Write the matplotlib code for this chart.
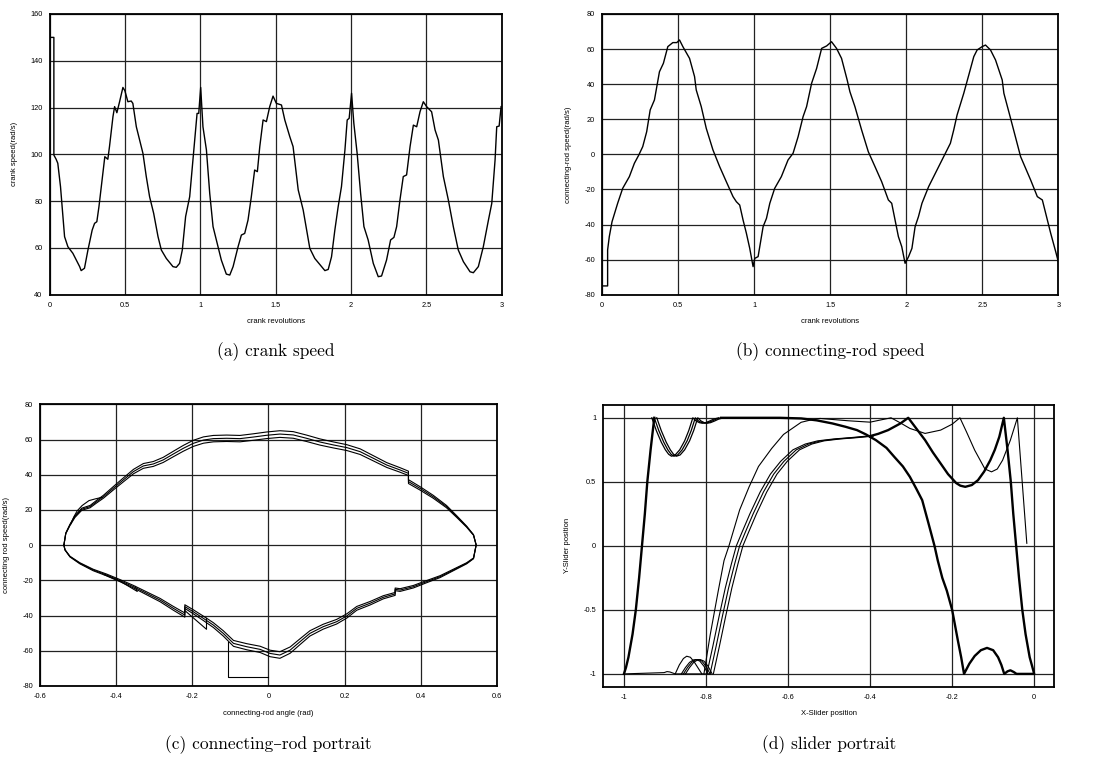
import matplotlib
matplotlib.use("Agg")
import matplotlib.pyplot as plt

plt.rcParams["font.family"] = ["Liberation Sans", "DejaVu Sans"]
plt.rcParams["axes.unicode_minus"] = False

# ----------------------------
# (a) crank speed
# ----------------------------
crank_rev = [0.0, 0.029, 0.029, 0.044, 0.055, 0.073, 0.089, 0.10, 0.122, 0.155, 0.20, 0.21,
             0.232, 0.255, 0.283, 0.299, 0.314, 0.328, 0.354, 0.367, 0.387, 0.398, 0.421,
             0.432, 0.447, 0.465, 0.487, 0.50, 0.52, 0.542, 0.553, 0.576, 0.598, 0.62,
             0.642, 0.664, 0.691, 0.72, 0.742, 0.775, 0.819, 0.841, 0.863, 0.881, 0.903,
             0.93, 0.963, 0.979, 0.99, 1.003, 1.018, 1.041, 1.063, 1.085, 1.107, 1.14,
             1.173, 1.196, 1.218, 1.251, 1.273, 1.295, 1.317, 1.339, 1.361, 1.379, 1.395,
             1.417, 1.439, 1.461, 1.483, 1.505, 1.539, 1.561, 1.594, 1.616, 1.65, 1.683,
             1.727, 1.76, 1.805, 1.827, 1.849, 1.871, 1.893, 1.915, 1.937, 1.96, 1.975,
             1.988, 2.004, 2.019, 2.041, 2.064, 2.086, 2.114, 2.148, 2.181, 2.203, 2.236,
             2.263, 2.285, 2.303, 2.325, 2.347, 2.369, 2.392, 2.414, 2.436, 2.458, 2.48,
             2.502, 2.535, 2.558, 2.58, 2.613, 2.646, 2.679, 2.712, 2.746, 2.79, 2.812,
             2.845, 2.878, 2.912, 2.934, 2.956, 2.967, 2.983, 2.996]
crank_speed = [150, 150, 99.7, 97.9, 96.2, 86.2, 73.4, 64.8, 60.5, 57.7, 52.0, 50.3,
               51.3, 59.1, 67.6, 70.5, 71.2, 77.6, 91.9, 99.0, 97.9, 103.3, 116.1,
               120.4, 117.8, 122.5, 128.6, 127.2, 122.5, 122.8, 121.8, 111.8, 106.1, 100.4,
               90.5, 81.9, 74.8, 64.8, 59.1, 55.5, 52.0, 51.7, 53.4, 59.1, 73.4,
               81.9, 106.1, 117.5, 117.5, 128.6, 111.8, 101.9, 83.3, 69.1, 63.4, 54.8,
               48.8, 48.4, 52.0, 60.5, 65.5, 66.2, 71.9, 81.9, 93.3, 92.6, 103.3,
               114.7, 114.0, 120.4, 124.9, 121.8, 121.1, 114.7, 107.6, 103.3, 84.8, 76.2,
               59.8, 55.5, 52.0, 50.3, 50.8, 56.2, 67.6, 77.6, 86.2, 101.9, 114.7,
               115.4, 126.1, 113.3, 100.4, 83.3, 69.1, 63.4, 53.4, 47.7, 48.0, 54.8,
               63.4, 64.5, 69.1, 80.5, 90.5, 91.2, 103.3, 112.5, 111.8, 118.2, 122.5,
               120.4, 118.2, 110.4, 106.1, 90.5, 80.5, 69.1, 59.1, 54.1, 49.8, 49.4,
               52.0, 60.5, 71.9, 79.0, 97.6, 111.8, 112.1, 120.4]

# ----------------------------
# (b) connecting-rod speed
# ----------------------------
rod_rev = [0.0, 0.035, 0.035, 0.046, 0.064, 0.101, 0.134, 0.178, 0.211, 0.24, 0.266, 0.292,
           0.315, 0.343, 0.376, 0.402, 0.431, 0.464, 0.49, 0.508, 0.53, 0.574, 0.607,
           0.618, 0.651, 0.684, 0.728, 0.772, 0.816, 0.86, 0.882, 0.904, 0.926, 0.948,
           0.97, 0.992, 1.003, 1.025, 1.058, 1.08, 1.102, 1.134, 1.178, 1.222, 1.255,
           1.288, 1.321, 1.344, 1.377, 1.41, 1.443, 1.476, 1.508, 1.541, 1.574, 1.611,
           1.629, 1.662, 1.706, 1.75, 1.794, 1.838, 1.882, 1.904, 1.926, 1.948, 1.97,
           1.992, 2.015, 2.037, 2.058, 2.08, 2.103, 2.147, 2.202, 2.257, 2.29, 2.312,
           2.334, 2.378, 2.411, 2.444, 2.466, 2.499, 2.521, 2.554, 2.587, 2.631, 2.642,
           2.686, 2.752, 2.818, 2.862, 2.895, 2.917, 2.95, 2.983, 3.0]
rod_speed = [-75, -75, -54.5, -46.9, -38.4, -27.9, -19.4, -12.7, -5.1, -0.4, 4.4, 12.9,
             25.3, 31.0, 47.1, 51.9, 61.4, 63.7, 63.7, 65.2, 61.4, 54.7, 44.3,
             36.7, 27.2, 14.8, 2.5, -7.0, -15.6, -24.1, -27.0, -28.9, -37.4, -45.0,
             -53.6, -64.0, -59.3, -58.3, -41.2, -36.5, -27.9, -19.4, -12.7, -3.2, 0.6,
             10.0, 21.5, 27.2, 40.5, 49.0, 60.4, 61.8, 64.2, 60.4, 54.7, 42.4,
             35.7, 27.2, 13.9, 1.5, -7.0, -15.6, -26.0, -27.9, -37.4, -46.9, -52.6,
             -62.1, -58.3, -53.6, -41.2, -35.5, -27.9, -18.4, -8.9, 0.6, 6.3, 13.9,
             22.4, 34.8, 45.2, 55.7, 59.5, 61.4, 62.3, 59.5, 53.8, 42.4, 34.8,
             20.5, -1.3, -14.6, -24.1, -26.0, -33.6, -45.0, -55.5, -61.2]

# ----------------------------
# (c) connecting-rod portrait (one loop, three cycles)
# ----------------------------
loop_angle = [-0.538, -0.533, -0.522, -0.509, -0.491, -0.469, -0.452, -0.434, -0.408, -0.382,
              -0.355, -0.329, -0.303, -0.277, -0.25, -0.224, -0.198, -0.171, -0.145, -0.11,
              -0.075, -0.04, -0.005, 0.03, 0.065, 0.10, 0.135, 0.171, 0.206, 0.241,
              0.276, 0.311, 0.346, 0.368, 0.368, 0.398, 0.433, 0.468, 0.495, 0.521,
              0.539, 0.546, 0.539, 0.521, 0.486, 0.451, 0.416, 0.381, 0.346, 0.333,
              0.333, 0.302, 0.267, 0.232, 0.206, 0.179, 0.144, 0.109, 0.083, 0.057,
              0.03, 0.004, -0.022, -0.057, -0.092, -0.119, -0.145, -0.171, -0.198, -0.22,
              -0.22, -0.25, -0.285, -0.32, -0.355, -0.39, -0.426, -0.461, -0.496, -0.522,
              -0.535, -0.538]
loop_speed = [0.0, 6.7, 11.5, 16.2, 20.4, 21.9, 24.7, 27.5, 32.3, 37.0,
              41.8, 45.0, 46.1, 48.4, 51.8, 55.0, 57.8, 59.7, 60.5, 60.7,
              60.5, 61.4, 62.4, 63.1, 62.6, 60.7, 58.6, 56.9, 55.4, 53.1,
              49.3, 45.5, 42.7, 40.8, 36.1, 32.3, 27.5, 21.9, 16.2, 10.5,
              5.8, 0.1, -7.5, -10.3, -14.1, -17.9, -20.7, -23.6, -25.5, -25.1,
              -27.7, -29.6, -33.0, -35.9, -40.2, -43.5, -46.3, -50.1, -54.8, -59.6,
              -62.4, -61.5, -59.2, -57.7, -55.8, -50.1, -45.4, -41.6, -37.8, -34.9,
              -39.7, -35.9, -31.2, -27.4, -23.6, -20.2, -16.9, -14.1, -10.3, -6.5,
              -2.7, 0.0]
cycle_scale = [1.03, 1.0, 0.97]
start_angle = [0.0, -0.106, -0.106]
start_speed = [-75, -75, -54.8]
wiggle_angle = [-0.52, -0.512, -0.503, -0.49, -0.472, -0.455, -0.437]
wiggle_speed = [12.0, 16.0, 19.5, 22.5, 25.3, 26.3, 27.2]
sliver_angle = [-0.432, -0.39, -0.345, -0.35]
sliver_speed = [-16.8, -20.5, -26.3, -23.5]
notch_angle = [-0.218, -0.163, -0.163]
notch_speed = [-37.5, -47.8, -41.5]

# ----------------------------
# (d) slider portrait
# ----------------------------
rise_x = [-1.0, -0.995, -0.989, -0.979, -0.971, -0.963, -0.956, -0.949, -0.943, -0.935, -0.926]
rise_y = [-1.0, -0.95, -0.87, -0.69, -0.5, -0.25, 0.0, 0.25, 0.5, 0.75, 1.0]

dip_x = [-0.926, -0.915, -0.903, -0.893, -0.885, -0.878, -0.869, -0.858, -0.846, -0.836,
         -0.826, -0.818, -0.81, -0.803, -0.795, -0.785, -0.775, -0.763]
dip_y = [1.0, 0.9, 0.81, 0.75, 0.715, 0.70, 0.71, 0.75, 0.82, 0.9,
         1.0, 0.975, 0.962, 0.958, 0.962, 0.975, 0.99, 1.0]
dip_shift = [-0.006, 0.0, 0.006]

main_x = [-0.763, -0.70, -0.62, -0.568, -0.53, -0.492, -0.46, -0.432, -0.41, -0.386,
          -0.36, -0.341, -0.32, -0.303, -0.288, -0.273, -0.258, -0.243, -0.235, -0.224,
          -0.213, -0.2, -0.193, -0.186, -0.178, -0.171, -0.158, -0.145, -0.13, -0.115,
          -0.1, -0.088, -0.08, -0.073, -0.065, -0.058, -0.05, -0.043, 0.0, -0.005,
          -0.011, -0.021, -0.029, -0.037, -0.044, -0.051, -0.057, -0.065, -0.074, -0.085,
          -0.096, -0.107, -0.122, -0.137, -0.152, -0.168, -0.18, -0.19, -0.21, -0.228,
          -0.247, -0.266, -0.287, -0.307, -0.326, -0.356, -0.38, -0.40]
main_y = [1.0, 1.0, 1.0, 0.995, 0.98, 0.956, 0.93, 0.904, 0.87, 0.826,
          0.765, 0.695, 0.62, 0.539, 0.45, 0.357, 0.18, 0.0, -0.115, -0.25,
          -0.35, -0.5, -0.62, -0.74, -0.87, -1.0, -0.92, -0.86, -0.815, -0.797,
          -0.815, -0.87, -0.93, -1.0, -0.98, -0.972, -0.985, -1.0, -1.0, -0.94,
          -0.87, -0.69, -0.5, -0.25, 0.0, 0.25, 0.5, 0.75, 1.0, 0.852,
          0.75, 0.669, 0.58, 0.513, 0.475, 0.461, 0.47, 0.49, 0.56, 0.643,
          0.73, 0.826, 0.915, 1.0, 0.956, 0.904, 0.875, 0.857]

arch_x = [-0.40, -0.44, -0.48, -0.52, -0.55, -0.58, -0.61, -0.635, -0.66, -0.685,
          -0.705, -0.718, -0.73, -0.745, -0.76, -0.775, -0.79]
arch_y = [0.857, 0.845, 0.835, 0.82, 0.795, 0.75, 0.66, 0.56, 0.42, 0.25,
          0.10, 0.0, -0.14, -0.33, -0.55, -0.78, -1.0]
arch_shift = [-0.008, 0.0, 0.008]

bump1_x = [-0.875, -0.865, -0.855, -0.847, -0.838, -0.828, -0.818, -0.81]
bump1_y = [-1.0, -0.93, -0.88, -0.862, -0.87, -0.91, -0.96, -1.0]
bump2_x = [-0.86, -0.85, -0.84, -0.83, -0.824, -0.815, -0.805, -0.795]
bump2_y = [-1.0, -0.95, -0.91, -0.89, -0.888, -0.9, -0.94, -1.0]
bump_shift = [0.0, 0.005, 0.01]

floor_x = [-0.79, -0.86, -0.875, -0.888, -0.895, -0.902, -1.0]
floor_y = [-1.0, -1.0, -1.0, -0.985, -0.982, -0.99, -1.0]

first_x = [-0.018, -0.041, -0.058, -0.077, -0.09, -0.104, -0.12, -0.145, -0.165, -0.181,
           -0.2, -0.228, -0.266, -0.303, -0.326, -0.349, -0.4, -0.454, -0.522, -0.542,
           -0.568, -0.611, -0.64, -0.672, -0.695, -0.718, -0.744, -0.756, -0.77, -0.79,
           -0.805]
first_y = [0.02, 1.0, 0.826, 0.669, 0.6, 0.578, 0.6, 0.747, 0.89, 1.0,
           0.95, 0.904, 0.878, 0.917, 0.96, 1.0, 0.966, 0.977, 0.995, 0.985,
           0.965, 0.87, 0.76, 0.62, 0.46, 0.28, 0.0, -0.115, -0.35, -0.7,
           -1.0]

# ----------------------------
# Figure
# ----------------------------
W, H = 1101, 762
fig = plt.figure(figsize=(W / 100, H / 100), dpi=100)


def make_axes(left, top, right, bottom):
    return fig.add_axes([left / W, 1 - bottom / H, (right - left) / W, (bottom - top) / H])


def style(ax, xt, xl, yt, yl, xlabel, ylabel):
    ax.set_xticks(xt)
    ax.set_xticklabels(xl)
    ax.set_yticks(yt)
    ax.set_yticklabels(yl)
    ax.grid(True, color="#222222", linewidth=0.9)
    ax.set_axisbelow(True)
    ax.tick_params(length=0, labelsize=5.3, pad=5)
    for s in ax.spines.values():
        s.set_linewidth(1.3)
    ax.set_xlabel(xlabel, fontsize=5.5, labelpad=7)
    ax.set_ylabel(ylabel, fontsize=5.5, labelpad=9)


rev_ticks = [0, 0.5, 1, 1.5, 2, 2.5, 3]
rev_labels = ["0", "0.5", "1", "1.5", "2", "2.5", "3"]

# (a)
ax = make_axes(49.5, 14, 501.7, 294.7)
ax.plot(crank_rev, crank_speed, color="black", lw=1.0)
ax.set_xlim(0, 3)
ax.set_ylim(40, 160)
style(ax, rev_ticks, rev_labels, list(range(40, 161, 20)),
      [str(v) for v in range(40, 161, 20)], "crank revolutions", "crank speed(rad/s)")

# (b)
ax = make_axes(602.3, 14, 1058.3, 294.7)
ax.plot(rod_rev, rod_speed, color="black", lw=1.0)
ax.set_xlim(0, 3)
ax.set_ylim(-80, 80)
style(ax, rev_ticks, rev_labels, list(range(-80, 81, 20)),
      [str(v) for v in range(-80, 81, 20)], "crank revolutions",
      "connecting-rod speed(rad/s)")

# (c)
ax = make_axes(40.3, 404.3, 496.7, 686)
for k in cycle_scale:
    ax.plot(loop_angle, [v * k for v in loop_speed], color="black", lw=0.8)
ax.plot(start_angle, start_speed, color="black", lw=0.8)
ax.plot(wiggle_angle, wiggle_speed, color="black", lw=0.8)
ax.plot(sliver_angle, sliver_speed, color="black", lw=0.8)
ax.plot(notch_angle, notch_speed, color="black", lw=0.8)
ax.set_xlim(-0.6, 0.6)
ax.set_ylim(-80, 80)
ang_ticks = [-0.6, -0.4, -0.2, 0, 0.2, 0.4, 0.6]
ang_labels = ["-0.6", "-0.4", "-0.2", "0", "0.2", "0.4", "0.6"]
style(ax, ang_ticks, ang_labels, list(range(-80, 81, 20)),
      [str(v) for v in range(-80, 81, 20)], "connecting-rod angle (rad)",
      "connecting rod speed(rad/s)")

# (d)
ax = make_axes(603, 405, 1054.3, 686.7)
ax.plot(rise_x, rise_y, color="black", lw=1.7)
for s in dip_shift:
    ax.plot([v + s for v in dip_x], dip_y, color="black", lw=0.9)
ax.plot(main_x, main_y, color="black", lw=1.7)
for s in arch_shift:
    ax.plot([v + s for v in arch_x], arch_y, color="black", lw=0.8)
ax.plot(bump1_x, bump1_y, color="black", lw=0.8)
for s in bump_shift:
    ax.plot([v + s for v in bump2_x], bump2_y, color="black", lw=0.8)
ax.plot(floor_x, floor_y, color="black", lw=0.8)
ax.plot(first_x, first_y, color="black", lw=0.8)
ax.set_xlim(-1.051, 0.049)
ax.set_ylim(-1.1, 1.1)
style(ax, [-1, -0.8, -0.6, -0.4, -0.2, 0], ["-1", "-0.8", "-0.6", "-0.4", "-0.2", "0"],
      [-1, -0.5, 0, 0.5, 1], ["-1", "-0.5", "0", "0.5", "1"],
      "X-Slider position", "Y-Slider position")

# captions
cap_font = dict(family=["cmr10", "DejaVu Serif"], fontsize=12.5, ha="center", va="center")
fig.text((49.5 + 501.7) / 2 / W, 1 - 352 / H, "(a) crank speed", **cap_font)
fig.text((602.3 + 1058.3) / 2 / W, 1 - 352 / H, "(b) connecting-rod speed", **cap_font)
fig.text((40.3 + 496.7) / 2 / W, 1 - 745 / H, "(c) connecting\u2013rod portrait", **cap_font)
fig.text((603 + 1054.3) / 2 / W, 1 - 745 / H, "(d) slider portrait", **cap_font)

fig.savefig("out.png", dpi=100)
